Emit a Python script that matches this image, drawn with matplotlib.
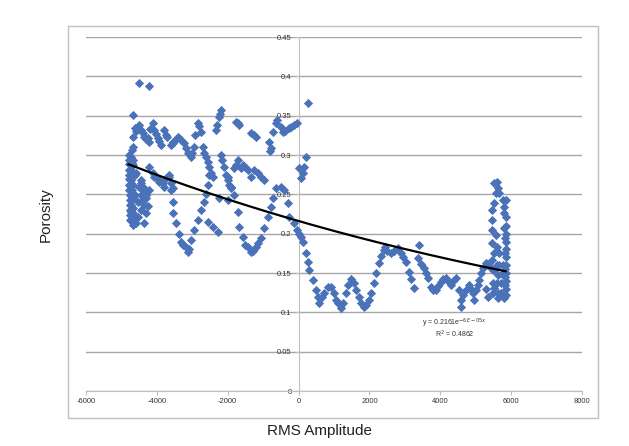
import numpy as np
import matplotlib.pyplot as plt
from matplotlib.patches import Rectangle

plt.rcParams['font.family'] = ['Liberation Sans', 'DejaVu Sans']
plt.rcParams['axes.unicode_minus'] = False

# --- data (RMS amplitude, porosity) ---
# dense strip at the left edge
left_x = [-4800, -4800, -4800, -4800, -4800, -4800, -4800, -4800,
          -4770, -4770, -4770, -4770, -4770, -4770,
          -4740, -4740, -4740, -4740, -4740,
          -4715, -4715, -4715, -4715, -4715, -4715,
          -4686, -4686, -4686, -4686, -4686, -4686,
          -4660, -4660, -4660, -4660, -4660,
          -4630, -4630, -4630, -4630,
          -4600, -4600, -4545, -4545, -4517, -4460, -4460, -4460, -4404, -4404,
          -4375, -4375, -4320, -4320, -4263, -4234, -4093, -3950, -3810, -3670,
          -3613, -3557]
left_y = [0.300, 0.294, 0.288, 0.281, 0.275, 0.269, 0.262, 0.256,
          0.249, 0.243, 0.236, 0.230, 0.224, 0.217,
          0.297, 0.281, 0.268, 0.236, 0.228,
          0.306, 0.290, 0.275, 0.256, 0.243, 0.220,
          0.323, 0.310, 0.294, 0.245, 0.233, 0.215,
          0.351, 0.287, 0.262, 0.226, 0.211,
          0.334, 0.275, 0.249, 0.220,
          0.277, 0.213, 0.221, 0.240, 0.259, 0.249, 0.268, 0.230, 0.243, 0.259,
          0.236, 0.214, 0.226, 0.249, 0.235, 0.256, 0.272, 0.266, 0.259, 0.272,
          0.255, 0.240]

# upper band on the left (0.30 - 0.39)
upper_left_x = [-4517, -4234, -4600, -4545, -4517, -4460, -4404, -4375, -4320, -4263,
                -4234, -4180, -4120, -4093, -4037, -3980, -3950, -3895, -3810, -3755,
                -3700, -3613, -3557, -3530, -3472, -3416, -3388, -3331, -3246, -3190,
                -3133, -3050, -3000, -2964, -2910, -2850, -2800, -2767, -2710, -2682,
                -2625, -2569, -2540, -2484, -2428]
upper_left_y = [0.392, 0.388, 0.330, 0.336, 0.338, 0.332, 0.328, 0.323, 0.320, 0.321,
                0.317, 0.333, 0.341, 0.332, 0.327, 0.322, 0.318, 0.313, 0.332, 0.326,
                0.323, 0.313, 0.315, 0.317, 0.320, 0.323, 0.321, 0.319, 0.315, 0.309,
                0.303, 0.297, 0.303, 0.310, 0.326, 0.341, 0.337, 0.329, 0.310, 0.303,
                0.297, 0.291, 0.285, 0.277, 0.272]

# middle band on the left (0.25 - 0.29)
mid_left_x = [-4234, -4120, -4037, -3950, -3840, -3755, -3670, -3613, -3557,
              -4460, -4404, -4320]
mid_left_y = [0.285, 0.277, 0.272, 0.268, 0.264, 0.271, 0.275, 0.264, 0.258,
              0.264, 0.255, 0.245]

# first dip
dip1_x = [-3530, -3472, -3388, -3331, -3260, -3190, -3133, -3100, -3050, -2964,
          -2850, -2767, -2682, -2625, -2569, -2540, -2569, -2428, -2287]
dip1_y = [0.226, 0.213, 0.200, 0.189, 0.186, 0.183, 0.177, 0.180, 0.192, 0.205,
          0.217, 0.230, 0.240, 0.250, 0.262, 0.275, 0.215, 0.208, 0.202]

# upper band in the middle (0.30 - 0.37)
upper_mid_x = [-2343, -2315, -2258, -2230, -2202, -1778, -1722, -1694, -1355, -1270,
               -1214, -847, -820, -790, -734, -650, -620, -508, -450, -380,
               -282, -226, -141, -56, 254]
upper_mid_y = [0.332, 0.338, 0.348, 0.352, 0.357, 0.342, 0.341, 0.338, 0.328, 0.325,
               0.323, 0.316, 0.305, 0.309, 0.329, 0.341, 0.344, 0.336, 0.329, 0.330,
               0.334, 0.336, 0.338, 0.341, 0.366]

# middle band in the middle (0.24 - 0.30)
mid_x = [-2202, -2150, -2117, -2060, -2004, -1970, -1920, -1835, -1778, -1722,
         -1637, -1580, -1500, -1440, -1355, -1270, -1157, -1073, -988,
         -2258, -2004, -1920, -2004, -1835,
         0, 56, 113, 141, 198]
mid_y = [0.300, 0.294, 0.285, 0.275, 0.268, 0.262, 0.258, 0.283, 0.287, 0.294,
         0.283, 0.287, 0.285, 0.281, 0.272, 0.281, 0.277, 0.272, 0.268,
         0.245, 0.243, 0.259, 0.272, 0.249,
         0.283, 0.271, 0.277, 0.285, 0.297]

# second dip
dip2_x = [-1722, -1694, -1580, -1500, -1440, -1355, -1300, -1214, -1140, -1073,
          -988, -875, -790, -734, -650, -508, -423, -310, -282, -141,
          -56, 0]
dip2_y = [0.227, 0.208, 0.196, 0.186, 0.183, 0.177, 0.178, 0.183, 0.188, 0.194,
          0.207, 0.221, 0.234, 0.245, 0.258, 0.259, 0.255, 0.239, 0.221, 0.213,
          0.205, 0.200]

# low wavy trace to the right of zero
low_x = [56, 113, 198, 254, 282, 395, 480, 536, 565, 650,
         706, 819, 903, 988, 1044, 1100, 1185, 1250, 1327, 1400,
         1468, 1552, 1620, 1694, 1760, 1835, 1900, 1976, 2050, 2117,
         2190, 2258, 2330, 2399, 2450, 2500, 2597, 2700, 2794, 2879,
         2950, 3020, 3105, 3170, 3246, 3388, 3360, 3450, 3528, 3600,
         3641, 3726, 3800, 3867, 3940, 4008, 4080, 4150, 4220, 4290,
         4360, 4432, 4517, 4573, 4573, 4650, 4714, 4800, 4860, 4912,
         4940, 5000, 5053, 5080, 5140, 5194, 5278, 5350, 5420]
low_y = [0.196, 0.189, 0.175, 0.164, 0.154, 0.141, 0.128, 0.119, 0.112, 0.120,
         0.125, 0.132, 0.132, 0.125, 0.116, 0.112, 0.105, 0.112, 0.124, 0.135,
         0.143, 0.137, 0.128, 0.120, 0.112, 0.107, 0.109, 0.116, 0.125, 0.137,
         0.150, 0.163, 0.172, 0.179, 0.183, 0.178, 0.175, 0.178, 0.182, 0.175,
         0.170, 0.164, 0.151, 0.143, 0.131, 0.186, 0.169, 0.162, 0.156, 0.150,
         0.144, 0.132, 0.129, 0.128, 0.134, 0.139, 0.142, 0.144, 0.140, 0.135,
         0.140, 0.144, 0.128, 0.116, 0.107, 0.122, 0.128, 0.135, 0.130, 0.125,
         0.116, 0.128, 0.135, 0.141, 0.150, 0.156, 0.163, 0.160, 0.157]

# cluster at the right end
right_x = [5450, 5450, 5450, 5450, 5450, 5480, 5480, 5480, 5530, 5530,
           5530, 5530, 5530, 5560, 5560, 5590, 5590, 5590, 5590, 5618,
           5618, 5618, 5618, 5650, 5650, 5650, 5700, 5700, 5350, 5300,
           5760, 5760, 5760, 5787, 5787, 5787, 5787, 5820, 5820, 5820,
           5820, 5820, 5843, 5843, 5843, 5843, 5843, 5843, 5843, 5843,
           5843, 5843, 5843, 5843]
right_y = [0.230, 0.217, 0.205, 0.188, 0.167, 0.154, 0.137, 0.125, 0.264, 0.239,
           0.175, 0.154, 0.131, 0.252, 0.198, 0.266, 0.183, 0.160, 0.137, 0.258,
           0.147, 0.125, 0.118, 0.252, 0.175, 0.160, 0.137, 0.125, 0.119, 0.130,
           0.243, 0.160, 0.150, 0.234, 0.226, 0.207, 0.118, 0.195, 0.175, 0.155,
           0.145, 0.135, 0.243, 0.221, 0.210, 0.200, 0.190, 0.180, 0.170, 0.160,
           0.150, 0.140, 0.130, 0.122]

# exponential trendline shown on the chart
fit_a = 0.2161
fit_b = -6e-05
fit_r2 = 0.4862

rms = np.array(left_x + upper_left_x + mid_left_x + dip1_x + upper_mid_x
               + mid_x + dip2_x + low_x + right_x)
por = np.array(left_y + upper_left_y + mid_left_y + dip1_y + upper_mid_y
               + mid_y + dip2_y + low_y + right_y)

fig = plt.figure(figsize=(6.29, 4.46), dpi=100)
ax = fig.add_axes([0.1367, 0.1233, 0.7886, 0.7937])

# outer chart border
fig.patches.append(Rectangle((0.108, 0.063), 0.843, 0.879, transform=fig.transFigure,
                             fill=False, edgecolor='#bfbfbf', linewidth=1.0))

ax.scatter(rms, por, marker='D', s=22, color='#4a72b8', linewidths=0, zorder=3)

xs = np.linspace(rms.min(), rms.max(), 200)
ax.plot(xs, fit_a * np.exp(fit_b * xs), color='black', lw=1.6, zorder=4)

ax.set_xlim(-6000, 8000)
ax.set_ylim(0, 0.45)
ax.set_xticks(np.arange(-6000, 8001, 2000))
ax.set_yticks(np.arange(0, 0.451, 0.05))
ax.set_yticklabels(['0', '0.05', '0.1', '0.15', '0.2', '0.25', '0.3', '0.35', '0.4', '0.45'])
ax.yaxis.grid(True, color='#a6a6a6', lw=1.0)
ax.set_axisbelow(True)

for s in ['top', 'right']:
    ax.spines[s].set_visible(False)
ax.spines['left'].set_position(('data', 0))
ax.spines['left'].set_color('#bfbfbf')
ax.spines['bottom'].set_color('#bfbfbf')
ax.tick_params(axis='both', labelsize=5.5, labelcolor='#333333', color='#bfbfbf',
               length=3, width=0.8, pad=2)

ax.text(4400, 0.083, 'y = 0.2161e$^{-6E-05x}$', fontsize=5, ha='center', color='#333333')
ax.text(4400, 0.068, 'R$^2$ = %.4f' % fit_r2, fontsize=5, ha='center', color='#333333')

fig.text(0.508, 0.018, 'RMS Amplitude', fontsize=11, ha='center', va='bottom', color='#222222')
fig.text(0.072, 0.518, 'Porosity', fontsize=11, rotation=90, ha='center', va='center',
         color='#222222')

fig.savefig('out.png', dpi=100)
